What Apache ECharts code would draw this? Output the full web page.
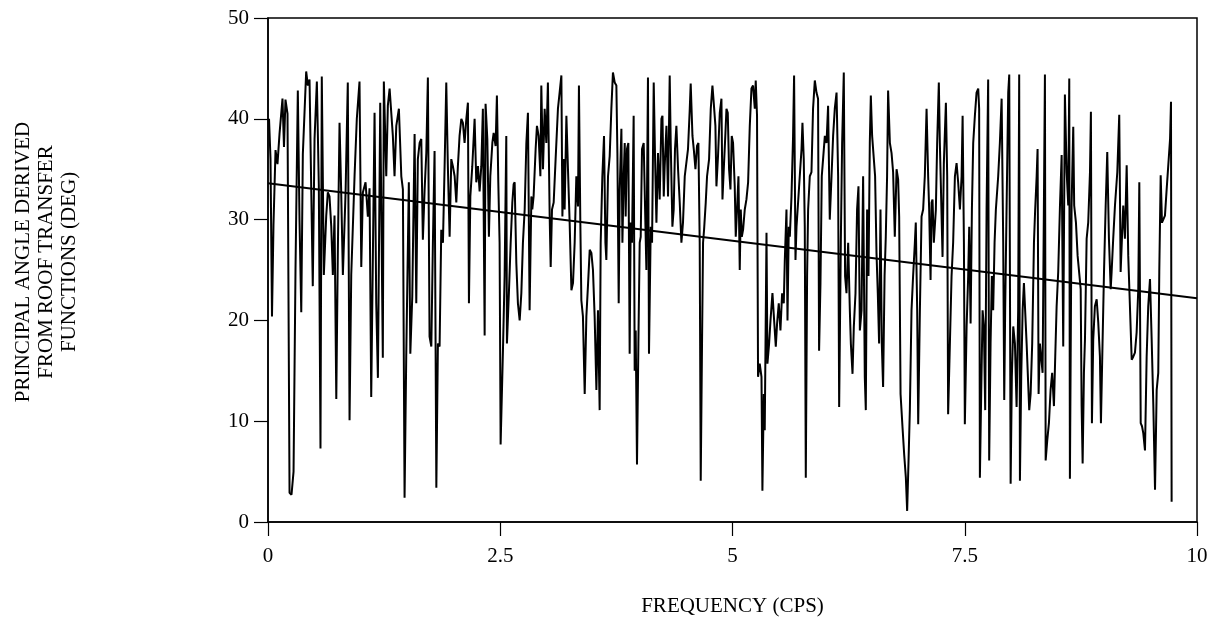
<!DOCTYPE html>
<html>
<head>
<meta charset="utf-8">
<script src="https://cdn.jsdelivr.net/npm/echarts@6/dist/echarts.min.js"></script>
<style>
  html, body { margin: 0; padding: 0; background: #fff; }
  #chart { width: 1218px; height: 622px; }
</style>
</head>
<body>
<div id="chart"></div>
<script>
// ---- Data (frequency in CPS, principal angle in degrees) ----
const freqA = [0.011,0.027,0.043,0.059,0.081,0.102,0.124,0.156,0.172,0.188,0.210,0.232,0.253,0.275,0.296,0.321,0.339,0.358,0.375,0.411,0.429,0.447,0.482,0.501,0.526,0.547,0.565,0.579,0.601,0.627,0.644,0.662,0.681,0.698,0.716,0.735,0.752,0.770,0.788,0.806,0.835,0.859,0.878,0.896,0.932,0.956,0.985,1.004,1.021,1.050,1.075,1.093,1.111,1.147,1.165,1.183,1.208,1.236,1.247,1.273,1.290];
const angleA = [40.0,36.0,20.4,29.5,36.9,35.5,38.5,42.0,37.2,41.9,40.5,2.9,2.7,5.0,25.0,42.8,30.0,20.8,36.5,44.7,43.3,43.9,23.4,38.0,43.7,33.4,7.3,44.2,24.5,30.4,32.7,32.3,29.3,24.5,30.4,12.2,27.0,39.6,32.7,24.5,32.7,43.6,10.1,24.5,34.4,40.0,43.7,25.3,32.7,33.7,30.3,33.1,12.4,40.6,21.7,14.3,41.6,16.3,43.7,34.3,41.3];

const freqB = [1.309,1.344,1.362,1.381,1.409,1.435,1.452,1.470,1.488,1.516,1.532,1.553,1.578,1.596,1.613,1.632,1.650,1.667,1.686,1.704,1.721,1.739,1.758,1.775,1.793,1.812,1.829,1.847,1.865,1.883,1.901,1.919,1.936,1.955,1.973,1.990,2.009,2.027,2.044,2.062,2.081,2.098,2.116,2.135,2.152,2.163,2.178,2.199,2.224,2.242,2.260,2.278,2.296,2.313,2.332,2.342,2.361,2.378,2.393,2.415,2.429,2.450,2.464,2.479,2.493,2.504,2.529,2.547,2.565,2.572,2.593,2.612,2.630,2.644,2.655,2.673,2.690,2.709,2.727,2.744,2.763,2.781,2.798];
const angleB = [43.0,38.3,34.3,39.3,41.0,34.3,33.0,2.4,16.4,33.7,16.7,22.4,38.5,21.7,36.0,37.6,38.0,28.0,33.0,36.6,44.1,18.4,17.4,27.7,36.8,3.4,17.7,17.4,29.0,27.7,35.3,43.6,35.3,28.3,36.0,35.3,34.3,31.7,35.3,38.3,40.0,39.6,37.6,40.0,41.6,21.7,32.3,35.3,40.0,33.7,35.3,32.8,35.3,41.0,18.5,41.5,38.0,28.3,34.3,37.6,38.6,37.3,42.3,33.7,27.7,7.7,17.0,24.4,38.3,17.7,22.7,27.7,31.7,33.5,33.7,25.7,21.7,20.0,22.7,27.7,31.0,37.6,40.6];

const freqC = [2.816,2.835,2.845,2.859,2.881,2.895,2.913,2.932,2.942,2.960,2.978,2.996,3.013,3.032,3.043,3.057,3.075,3.096,3.121,3.139,3.158,3.169,3.183,3.193,3.212,3.229,3.247,3.266,3.283,3.301,3.319,3.337,3.347,3.362,3.373,3.390,3.409,3.427,3.444,3.463,3.481,3.498,3.516,3.535,3.552,3.570,3.581,3.599,3.617,3.632,3.642,3.660,3.678,3.696,3.713,3.732,3.750,3.761,3.775,3.786,3.804,3.815,3.829,3.840,3.850,3.864,3.879,3.893,3.904,3.918,3.936,3.947,3.958,3.972,3.987,4.001,4.012,4.026,4.044,4.058,4.073,4.090,4.101,4.120,4.134,4.152,4.166,4.181,4.198];
const angleC = [21.0,32.3,31.0,32.3,37.0,39.3,38.3,34.3,43.3,35.0,41.0,37.6,43.6,30.3,25.3,31.0,31.7,36.0,41.0,42.6,44.3,30.3,36.0,31.0,40.3,35.0,29.7,23.0,23.7,27.7,34.3,31.3,43.3,29.7,22.0,20.4,12.7,20.4,23.4,27.0,26.7,25.0,20.4,13.1,21.0,11.1,27.7,34.3,38.3,27.7,26.0,34.3,36.3,41.0,44.6,43.6,43.3,36.6,21.7,33.0,39.0,27.7,34.3,37.6,30.3,37.0,37.6,16.7,29.7,27.7,40.3,15.0,19.0,5.7,17.7,27.7,28.3,37.0,37.6,37.6,25.0,44.1,16.7,29.3,27.7,43.6,36.3,29.7,36.6];

const freqD = [4.216,4.235,4.246,4.260,4.270,4.289,4.306,4.324,4.335,4.353,4.367,4.381,4.396,4.414,4.432,4.450,4.467,4.486,4.504,4.521,4.540,4.550,4.569,4.583,4.601,4.618,4.633,4.647,4.658,4.672,4.683,4.694,4.712,4.726,4.748,4.766,4.784,4.798,4.816,4.827,4.844,4.863,4.881,4.892,4.906,4.924,4.935,4.949,4.963,4.978,4.992,5.006,5.024,5.035,5.049,5.064,5.078,5.089,5.100,5.114,5.132,5.150,5.168,5.186,5.204,5.221,5.240,5.250,5.264,5.275,5.293,5.312,5.322,5.337,5.347,5.366,5.376,5.394,5.409,5.430,5.448,5.466,5.480,5.498,5.516,5.534,5.552,5.563,5.581,5.592,5.606];
const angleD = [32.0,40.0,40.3,32.3,35.3,39.3,32.3,44.3,37.6,29.3,31.0,37.0,39.3,35.0,31.7,27.7,29.7,34.3,34.3,37.0,41.0,43.5,38.3,37.0,35.0,37.3,37.6,27.7,4.1,17.7,27.7,29.0,31.7,34.3,36.0,41.0,43.3,41.6,39.3,33.3,36.3,40.6,42.0,32.0,35.0,38.6,41.0,40.6,35.0,33.0,38.3,37.6,33.3,28.3,31.0,34.3,25.0,31.0,28.3,29.0,31.0,32.0,33.7,39.3,43.0,43.3,41.0,43.8,40.3,14.4,15.7,14.4,3.1,12.7,9.1,28.7,15.7,17.7,20.0,22.7,20.0,17.4,19.7,21.7,19.0,22.7,21.7,26.0,31.0,20.0,29.3];

const freqE = [5.617,5.635,5.652,5.663,5.678,5.689,5.706,5.724,5.743,5.753,5.767,5.778,5.789,5.803,5.814,5.832,5.850,5.867,5.886,5.904,5.921,5.932,5.947,5.961,5.975,5.994,6.012,6.029,6.047,6.066,6.083,6.101,6.120,6.137,6.148,6.166,6.180,6.198,6.212,6.227,6.245,6.263,6.274,6.292,6.306,6.324,6.341,6.356,6.371,6.389,6.406,6.424,6.435,6.449,6.464,6.478,6.489,6.503,6.521,6.535,6.550,6.564,6.578,6.593,6.607,6.621,6.637,6.650,6.664,6.675,6.694,6.712,6.729,6.747,6.766,6.783,6.794,6.809,6.830,6.848,6.866,6.880,6.895,6.909,6.927,6.944,6.963,6.973,6.988,6.999];
const angleE = [28.3,32.3,38.3,44.3,26.0,29.3,31.7,34.3,37.0,39.6,36.0,29.3,4.4,24.4,31.0,34.3,34.7,41.0,43.8,42.6,42.0,17.0,23.7,34.3,36.0,38.3,37.6,41.3,30.0,34.3,38.3,41.0,42.6,34.3,11.4,27.7,37.6,44.6,24.4,22.7,27.7,21.0,17.7,14.7,19.4,22.7,31.0,33.3,19.0,21.0,34.3,14.4,11.1,31.0,24.4,37.6,42.3,38.3,38.3,34.3,26.7,22.7,17.7,31.0,17.7,13.4,24.4,28.3,34.3,42.8,37.6,36.6,34.7,28.3,35.0,34.0,30.3,12.7,9.4,6.7,4.4,1.1,6.1,11.1,21.0,24.4,27.7,29.7,21.0,9.7];

const freqF = [7.017,7.035,7.052,7.070,7.089,7.106,7.117,7.132,7.143,7.153,7.167,7.189,7.203,7.221,7.232,7.250,7.261,7.275,7.297,7.311,7.321,7.340,7.358,7.375,7.394,7.412,7.429,7.448,7.466,7.477,7.491,7.501,7.520,7.537,7.548,7.563,7.577,7.591,7.609,7.627,7.645,7.655,7.663,7.677,7.692,7.706,7.720,7.735,7.752,7.763,7.778,7.792,7.806,7.821,7.835,7.849,7.860,7.878,7.897,7.914,7.925,7.935,7.950,7.968,7.979,7.994,8.007,8.022,8.040,8.058,8.075,8.086,8.094,8.108,8.123,8.137,8.151,8.166,8.180,8.194,8.209,8.226,8.245,8.258,8.274,8.284,8.295,8.309];
const angleF = [21.0,30.3,31.0,34.3,41.0,34.3,31.0,24.0,31.7,32.0,27.7,31.0,37.6,43.6,37.6,37.6,26.3,35.6,41.6,34.3,10.7,17.7,24.4,27.7,34.3,35.6,33.7,31.0,34.3,40.3,27.7,9.7,19.4,24.4,29.3,19.7,31.0,37.6,40.3,42.6,43.0,41.0,4.4,12.7,21.0,19.4,11.1,31.0,43.9,6.1,17.7,24.4,21.0,27.7,31.0,31.0,34.3,37.6,42.0,27.7,12.1,21.0,31.0,42.6,44.4,3.8,14.4,19.4,17.7,11.4,21.0,44.4,4.1,14.4,21.0,23.7,23.7,17.7,14.4,11.1,12.7,17.7,27.7,31.0,34.3,37.0,12.7,17.7];

const freqG = [8.338,8.363,8.371,8.388,8.406,8.424,8.441,8.460,8.474,8.489,8.506,8.525,8.543,8.560,8.578,8.597,8.614,8.625,8.632,8.650,8.668,8.678,8.697,8.715,8.732,8.748,8.758,8.769,8.783,8.794,8.812,8.829,8.848,8.858,8.869,8.883,8.901,8.920,8.937,8.955,8.966,8.984,8.999,9.017,9.034,9.052,9.071,9.081,9.098,9.117,9.142,9.163,9.178,9.192,9.206,9.224,9.243,9.260,9.278,9.297,9.314,9.332,9.350,9.368,9.379,9.394,9.408,9.422,9.440,9.458,9.475,9.494,9.512,9.530,9.548,9.566,9.583,9.594,9.609,9.623,9.637,9.655,9.674,9.691,9.710,9.720,9.727];
const angleG = [14.8,44.4,6.1,8.1,9.8,13.1,14.8,11.5,16.4,21.4,24.8,31.4,36.4,17.4,42.4,34.7,31.4,44.0,4.3,31.4,39.2,31.4,29.7,26.4,26.4,23.1,11.5,5.8,14.8,18.1,28.1,29.7,34.7,40.7,9.8,18.1,21.4,22.1,19.8,16.4,9.8,18.1,24.8,31.4,36.7,28.1,23.1,24.8,28.1,31.4,34.7,40.4,24.8,28.1,31.4,28.1,35.4,26.4,21.4,16.1,16.4,16.8,18.8,23.1,33.7,9.8,9.5,8.8,7.1,16.4,21.4,24.1,18.1,11.5,3.2,13.1,14.8,24.8,34.4,29.7,29.7,30.4,33.1,35.4,38.0,41.7,2.0];

// Linear trend line (end points)
const trendFreq = [0, 10];
const trendAngle = [33.6, 22.2];

// Axis ticks / labels
const xTickLabels = ['0', '2.5', '5', '7.5', '10'];
const yTickLabels = ['0', '10', '20', '30', '40', '50'];

const xTitle = 'FREQUENCY (CPS)';
const yTitle = 'PRINCIPAL ANGLE DERIVED\nFROM ROOF TRANSFER\nFUNCTIONS (DEG)';

// ---- Build series data ----
const freqAll = [].concat(freqA, freqB, freqC, freqD, freqE, freqF, freqG);
const angleAll = [].concat(angleA, angleB, angleC, angleD, angleE, angleF, angleG);
const traceData = freqAll.map((f, i) => [f, angleAll[i]]);
const trendData = trendFreq.map((f, i) => [f, trendAngle[i]]);

const SERIF = '"Liberation Serif", "Times New Roman", "DejaVu Serif", serif';

const chart = echarts.init(document.getElementById('chart'), null, { renderer: 'canvas' });
chart.setOption({
  animation: false,
  backgroundColor: '#ffffff',
  grid: {
    left: 268, right: 21, top: 18, bottom: 100,
    show: true, borderColor: '#000', borderWidth: 1.5, backgroundColor: 'transparent'
  },
  xAxis: {
    type: 'value', min: 0, max: 10, interval: 2.5,
    name: xTitle, nameLocation: 'middle', nameGap: 74,
    nameTextStyle: { fontFamily: SERIF, fontSize: 21, color: '#000' },
    axisLine: { show: true, onZero: false, lineStyle: { color: '#000', width: 1.5 } },
    axisTick: { show: true, inside: false, length: 14, lineStyle: { color: '#000', width: 1.2 } },
    axisLabel: {
      margin: 24, fontFamily: SERIF, fontSize: 21, color: '#000',
      formatter: v => xTickLabels[Math.round(v / 2.5)]
    },
    splitLine: { show: false }
  },
  yAxis: {
    type: 'value', min: 0, max: 50, interval: 10,
    axisLine: { show: true, onZero: false, lineStyle: { color: '#000', width: 1.5 } },
    axisTick: { show: true, inside: false, length: 14, lineStyle: { color: '#000', width: 1.2 } },
    axisLabel: {
      margin: 19, fontFamily: SERIF, fontSize: 21, color: '#000',
      formatter: v => yTickLabels[Math.round(v / 10)]
    },
    splitLine: { show: false }
  },
  graphic: [{
    type: 'text',
    x: 46, y: 262,
    rotation: Math.PI / 2,
    style: {
      text: yTitle,
      font: '21px ' + SERIF,
      fill: '#000',
      align: 'center', verticalAlign: 'middle',
      textAlign: 'center', textVerticalAlign: 'middle',
      lineHeight: 23
    }
  }],
  series: [
    {
      type: 'line', data: traceData, showSymbol: false, symbol: 'none',
      lineStyle: { color: '#000', width: 2 }, z: 2
    },
    {
      type: 'line', data: trendData, showSymbol: false, symbol: 'none',
      lineStyle: { color: '#000', width: 2 }, z: 3
    }
  ]
});
</script>
</body>
</html>
